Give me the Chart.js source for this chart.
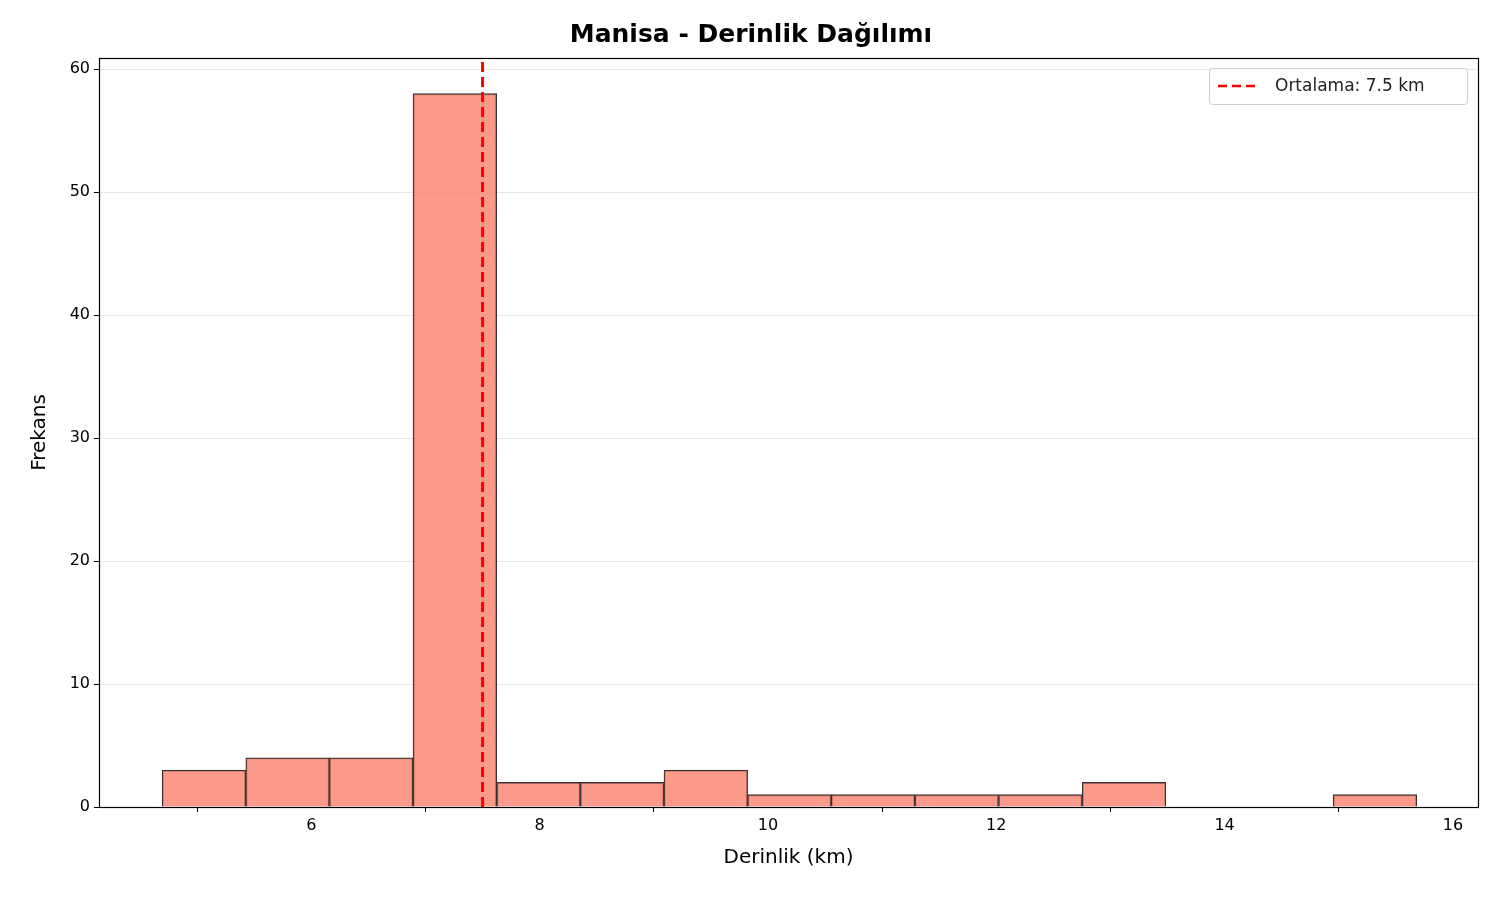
<!DOCTYPE html>
<html><head><meta charset="utf-8">
<script src="https://cdn.jsdelivr.net/npm/chart.js@4"></script>
<style>html,body{margin:0;background:#fff}</style>
</head><body>
<canvas id="c" width="1500" height="900"></canvas>
<script>
const binStart = 4.693;
const binWidth = 0.7327;
const counts = [3,4,4,58,2,2,3,1,1,1,1,2,0,0,1];
const meanDepth = 7.5;
const xTicks = [6,8,10,12,14,16];
const yTicks = [0,10,20,30,40,50,60];
const titleText = 'Manisa - Derinlik Dağılımı';
const xLabel = 'Derinlik (km)';
const yLabel = 'Frekans';
const legendLabel = 'Ortalama: 7.5 km';

const barData = counts.map((v,i)=>({x: binStart + binWidth*(i+0.5), y: v}));
const font = 'DejaVu Sans';

const framePlugin = {
  id:'frame',
  afterDatasetsDraw(chart){
    const {ctx, chartArea:a} = chart;
    ctx.save();
    ctx.strokeStyle='#000'; ctx.lineWidth=1.2;
    ctx.strokeRect(a.left+0.5,a.top+0.5,a.right-a.left,a.bottom-a.top);
    const w=258,h=36, x=a.right-11-w, y=a.top+10;
    ctx.fillStyle='rgba(255,255,255,0.85)';
    ctx.strokeStyle='#ccc'; ctx.lineWidth=1;
    ctx.beginPath(); ctx.roundRect(x+0.5,y+0.5,w,h,3); ctx.fill(); ctx.stroke();
    ctx.strokeStyle='red'; ctx.lineWidth=2.5; ctx.setLineDash([9,5]);
    ctx.beginPath(); ctx.moveTo(x+9,y+h/2); ctx.lineTo(x+49,y+h/2); ctx.stroke();
    ctx.setLineDash([]);
    ctx.fillStyle='#222'; ctx.font='17px '+font; ctx.textBaseline='middle';
    ctx.fillText(legendLabel,x+66,y+h/2+1);
    ctx.restore();
  }
};

new Chart(document.getElementById('c'),{
  type:'bar',
  data:{datasets:[
    {type:'bar',data:barData,backgroundColor:'rgba(250,128,110,0.8)',borderColor:'#333',borderWidth:1.2,barPercentage:1,categoryPercentage:1,grouped:false,order:2},
    {type:'line',data:[{x:meanDepth,y:0},{x:meanDepth,y:62}],borderColor:'red',borderWidth:3,borderDash:[10,5],pointRadius:0,order:1}
  ]},
  options:{
    responsive:false,animation:false,devicePixelRatio:1,
    layout:{padding:{left:24,right:22,top:0,bottom:26}},
    plugins:{legend:{display:false},tooltip:{enabled:false},
      title:{display:true,text:titleText,font:{family:font,size:25,weight:'bold'},color:'#000',padding:{top:20,bottom:8}}},
    scales:{
      x:{type:'linear',min:4.14,max:16.22,offset:false,
        grid:{color:'rgba(0,0,0,0)',drawTicks:true,tickColor:'#000',tickLength:5},border:{display:false},
        afterBuildTicks(s){s.ticks=xTicks.map(v=>({value:v}));},
        afterFit(s){s.height=67;},
        ticks:{font:{family:font,size:16},color:'#000',maxRotation:0,padding:4},
        title:{display:true,text:xLabel,font:{family:font,size:20},color:'#000',padding:{top:2}}},
      y:{min:0,max:60.9,
        grid:{color:'#e6e6e6',drawTicks:true,tickColor:'#000',tickLength:5},border:{display:false},
        afterBuildTicks(s){s.ticks=yTicks.map(v=>({value:v}));},
        afterFit(s){s.width=75;},
        ticks:{font:{family:font,size:16},color:'#000',padding:4},
        title:{display:true,text:yLabel,font:{family:font,size:20},color:'#000',padding:{bottom:4}}}
    }
  },
  plugins:[framePlugin]
});
</script></body></html>
